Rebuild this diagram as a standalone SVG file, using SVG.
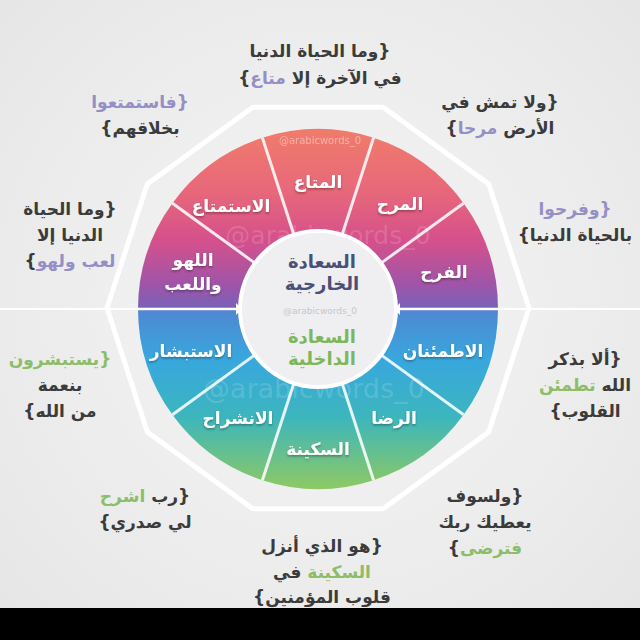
<svg xmlns="http://www.w3.org/2000/svg" width="640" height="640" viewBox="0 0 640 640">
<defs>
<linearGradient id="wheelGrad" gradientUnits="userSpaceOnUse" x1="0" y1="129" x2="0" y2="489">
<stop offset="0" stop-color="#f07c6b"/>
<stop offset="0.17" stop-color="#e8687a"/>
<stop offset="0.31" stop-color="#d5508c"/>
<stop offset="0.44" stop-color="#9b55aa"/>
<stop offset="0.494" stop-color="#7a62b8"/>
<stop offset="0.506" stop-color="#4f88d2"/>
<stop offset="0.64" stop-color="#38a7de"/>
<stop offset="0.8" stop-color="#3cb6bd"/>
<stop offset="1" stop-color="#8ec963"/>
</linearGradient>
<radialGradient id="bgGrad" cx="0.5" cy="0.48" r="0.7">
<stop offset="0" stop-color="#f6f6f6"/>
<stop offset="1" stop-color="#e6e6e6"/>
</radialGradient>
<filter id="shadow" x="-20%" y="-40%" width="140%" height="180%">
<feDropShadow dx="0" dy="1.5" stdDeviation="1.2" flood-color="#000" flood-opacity="0.35"/>
</filter>
</defs>
<style>
.q{font-family:"DejaVu Sans","Noto Sans",sans-serif;font-size:17px;font-weight:bold;fill:#3b3b3b;text-anchor:middle;direction:rtl}
.lav{fill:#958fc6}
.grn{fill:#8cbd69}
.lbl{font-family:"DejaVu Sans","Noto Sans",sans-serif;font-size:17px;font-weight:bold;fill:#ffffff;text-anchor:middle;direction:rtl;filter:url(#shadow)}
.ctr{font-family:"DejaVu Sans","Noto Sans",sans-serif;font-size:18px;font-weight:bold;text-anchor:middle;direction:rtl}
.seg{fill:url(#wheelGrad)}
.div{stroke:#ffffff;stroke-width:3;stroke-opacity:0.85}
.wm{font-family:"DejaVu Sans",sans-serif;fill:#ffffff;text-anchor:middle}
</style>
<rect x="0" y="0" width="640" height="640" fill="url(#bgGrad)"/>
<polygon points="529,308 488.7,184 383.2,107.3 252.8,107.3 147.3,184 107,308 147.3,432 252.8,508.7 383.2,508.7 488.7,432" fill="none" stroke="#ffffff" stroke-width="5" stroke-linejoin="round"/>
<line x1="0" y1="309" x2="640" y2="309" stroke="#ffffff" stroke-width="2"/>

<g id="seg-farah"><path class="seg" d="M318,309 L498,309 A180,180 0 0 0 463.6,203.2 Z"/><text class="lbl" x="444" y="278">الفرح</text></g>
<g id="seg-marah"><path class="seg" d="M318,309 L463.6,203.2 A180,180 0 0 0 373.6,137.8 Z"/><text class="lbl" x="400" y="210">المرح</text></g>
<g id="seg-mataa"><path class="seg" d="M318,309 L373.6,137.8 A180,180 0 0 0 262.4,137.8 Z"/><text class="lbl" x="318" y="188">المتاع</text></g>
<g id="seg-istimtaa"><path class="seg" d="M318,309 L262.4,137.8 A180,180 0 0 0 172.4,203.2 Z"/><text class="lbl" x="231" y="212">الاستمتاع</text></g>
<g id="seg-lahw"><path class="seg" d="M318,309 L172.4,203.2 A180,180 0 0 0 138,309 Z"/><text class="lbl" x="193" y="266">اللهو</text><text class="lbl" x="193" y="290">واللعب</text></g>
<g id="seg-istibshar"><path class="seg" d="M318,309 L138,309 A180,180 0 0 0 172.4,414.8 Z"/><text class="lbl" x="191" y="357">الاستبشار</text></g>
<g id="seg-inshirah"><path class="seg" d="M318,309 L172.4,414.8 A180,180 0 0 0 262.4,480.2 Z"/><text class="lbl" x="238" y="424">الانشراح</text></g>
<g id="seg-sakina"><path class="seg" d="M318,309 L262.4,480.2 A180,180 0 0 0 373.6,480.2 Z"/><text class="lbl" x="318" y="455">السكينة</text></g>
<g id="seg-rida"><path class="seg" d="M318,309 L373.6,480.2 A180,180 0 0 0 463.6,414.8 Z"/><text class="lbl" x="394" y="424">الرضا</text></g>
<g id="seg-itmi2nan"><path class="seg" d="M318,309 L463.6,414.8 A180,180 0 0 0 498,309 Z"/><text class="lbl" x="443" y="357">الاطمئنان</text></g>

<g id="watermarks">
<text class="wm" x="328" y="244" font-size="25" opacity="0.14">@arabicwords_0</text>
<text class="wm" x="314" y="398" font-size="27" opacity="0.14">@arabicwords_0</text>
<text class="wm" x="320" y="144" font-size="10" opacity="0.4">@arabicwords_0</text>
</g>

<g id="connectors">
<line class="div" x1="381.1" y1="263.1" x2="463.6" y2="203.2"/>
<line class="div" x1="342.1" y1="234.8" x2="373.6" y2="137.8"/>
<line class="div" x1="293.9" y1="234.8" x2="262.4" y2="137.8"/>
<line class="div" x1="254.9" y1="263.1" x2="172.4" y2="203.2"/>
<line class="div" x1="381.1" y1="354.9" x2="463.6" y2="414.8"/>
<line class="div" x1="342.1" y1="383.2" x2="373.6" y2="480.2"/>
<line class="div" x1="293.9" y1="383.2" x2="262.4" y2="480.2"/>
<line class="div" x1="254.9" y1="354.9" x2="172.4" y2="414.8"/>
<line x1="138" y1="309" x2="498" y2="309" stroke="#ffffff" stroke-width="2.5"/>
</g>

<g id="center">
<circle cx="318" cy="309" r="78" fill="#efeff1" stroke="#ffffff" stroke-width="4"/>
<polygon points="236,303 242,309 236,315" fill="#ffffff"/>
<polygon points="400,303 394,309 400,315" fill="#ffffff"/>
<text class="ctr" x="322" y="268" fill="#4b5078">السعادة</text>
<text class="ctr" x="322" y="290" fill="#4b5078">الخارجية</text>
<text class="wm" x="320" y="314" font-size="9" style="fill:#c6c6ca">@arabicwords_0</text>
<text class="ctr" x="322" y="343" fill="#7db75a">السعادة</text>
<text class="ctr" x="322" y="365" fill="#7db75a">الداخلية</text>
</g>

<g id="quote-top"><text class="q" x="320" y="57">{وما الحياة الدنيا</text><text class="q" x="320" y="84">في الآخرة إلا <tspan class="lav">متاع</tspan>}</text></g>
<g id="quote-top-right"><text class="q" x="500" y="108">{ولا تمش في</text><text class="q" x="500" y="134">الأرض <tspan class="lav">مرحا</tspan>}</text></g>
<g id="quote-top-left"><text class="q" x="140" y="108"><tspan class="lav">{فاستمتعوا</tspan></text><text class="q" x="140" y="134">بخلاقهم}</text></g>
<g id="quote-left"><text class="q" x="70" y="215">{وما الحياة</text><text class="q" x="70" y="241">الدنيا إلا</text><text class="q" x="70" y="267"><tspan class="lav">لعب ولهو</tspan>}</text></g>
<g id="quote-right"><text class="q" x="575" y="215"><tspan class="lav">{وفرحوا</tspan></text><text class="q" x="575" y="241">بالحياة الدنيا}</text></g>
<g id="quote-lower-left"><text class="q" x="60" y="365"><tspan class="grn">{يستبشرون</tspan></text><text class="q" x="60" y="391">بنعمة</text><text class="q" x="60" y="417">من الله}</text></g>
<g id="quote-lower-right"><text class="q" x="585" y="365">{ألا بذكر</text><text class="q" x="585" y="391">الله <tspan class="grn">تطمئن</tspan></text><text class="q" x="585" y="417">القلوب}</text></g>
<g id="quote-bottom-left"><text class="q" x="145" y="502">{رب <tspan class="grn">اشرح</tspan></text><text class="q" x="145" y="528">لي صدري}</text></g>
<g id="quote-bottom-right"><text class="q" x="485" y="502">{ولسوف</text><text class="q" x="485" y="528">يعطيك ربك</text><text class="q" x="485" y="554"><tspan class="grn">فترضى</tspan>}</text></g>
<g id="quote-bottom"><text class="q" x="322" y="552">{هو الذي أنزل</text><text class="q" x="322" y="578"><tspan class="grn">السكينة</tspan> في</text><text class="q" x="322" y="603">قلوب المؤمنين}</text></g>

<rect x="0" y="608" width="640" height="32" fill="#000000"/>
</svg>
